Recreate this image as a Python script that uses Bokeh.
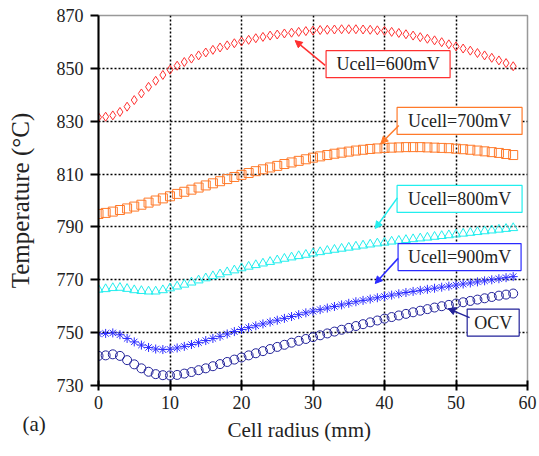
from bokeh.plotting import figure
from bokeh.models import ColumnDataSource, Arrow, NormalHead, Title, Range1d, FixedTicker
from bokeh.core.properties import value
from bokeh.embed import file_html
from bokeh.resources import INLINE

radius = list(range(0, 59))

t_600 = [831.5, 831.7, 832.2, 833.5, 835.5, 838.0, 840.5, 843.0, 845.3, 847.5,
         849.5, 851.0, 852.4, 853.7, 854.9, 856.0, 857.0, 857.9, 858.7, 859.5,
         860.2, 860.8, 861.4, 861.9, 862.4, 862.8, 863.2, 863.5, 863.8, 864.1,
         864.3, 864.5, 864.6, 864.7, 864.8, 864.8, 864.8, 864.7, 864.6, 864.4,
         864.2, 863.8, 863.4, 862.9, 862.4, 861.8, 861.2, 860.6, 859.9, 859.1,
         858.3, 857.5, 856.7, 855.8, 854.9, 854.0, 853.0, 852.0, 850.8]

t_700 = [794.9, 795.3, 795.8, 796.4, 797.0, 797.7, 798.4, 799.2, 800.0, 800.8,
         801.6, 802.5, 803.3, 804.1, 804.9, 805.7, 806.5, 807.3, 808.1, 808.9,
         809.7, 810.4, 811.1, 811.8, 812.5, 813.1, 813.8, 814.4, 815.0, 815.6,
         816.2, 816.7, 817.2, 817.7, 818.1, 818.5, 818.9, 819.2, 819.5, 819.7,
         819.9, 820.0, 820.1, 820.2, 820.2, 820.2, 820.1, 820.0, 819.9, 819.8,
         819.6, 819.4, 819.2, 818.9, 818.6, 818.3, 818.0, 817.6, 817.2]

t_800 = [766.3, 766.5, 766.9, 767.0, 766.6, 766.1, 765.8, 765.6, 765.6, 766.1,
         766.8, 767.5, 768.2, 769.0, 769.8, 770.6, 771.4, 772.1, 772.9, 773.6,
         774.4, 775.0, 775.6, 776.2, 776.8, 777.4, 778.0, 778.5, 779.0, 779.5,
         780.0, 780.5, 781.0, 781.4, 781.8, 782.2, 782.6, 783.0, 783.4, 783.8,
         784.1, 784.5, 784.8, 785.1, 785.4, 785.7, 786.0, 786.3, 786.6, 786.9,
         787.2, 787.5, 787.8, 788.1, 788.4, 788.7, 789.0, 789.3, 789.6]

t_900 = [749.5, 749.7, 749.9, 749.2, 747.8, 746.5, 745.3, 744.4, 743.8, 743.6,
         743.7, 744.2, 744.8, 745.5, 746.2, 747.0, 747.8, 748.6, 749.5, 750.4,
         751.2, 751.9, 752.6, 753.3, 754.0, 754.7, 755.4, 756.1, 756.8, 757.5,
         758.1, 758.7, 759.3, 759.9, 760.5, 761.1, 761.7, 762.2, 762.7, 763.2,
         763.7, 764.2, 764.7, 765.2, 765.6, 766.0, 766.4, 766.8, 767.2, 767.6,
         768.0, 768.4, 768.8, 769.2, 769.6, 770.0, 770.4, 770.8, 771.2]

t_ocv = [741.2, 741.4, 741.8, 741.2, 739.6, 738.0, 736.5, 735.2, 734.3, 733.9,
         733.8, 734.0, 734.5, 735.1, 735.8, 736.5, 737.3, 738.1, 738.9, 739.8,
         740.6, 741.4, 742.2, 743.0, 743.8, 744.6, 745.4, 746.2, 746.9, 747.6,
         748.3, 749.0, 749.7, 750.4, 751.1, 751.8, 752.5, 753.2, 753.9, 754.6,
         755.3, 755.9, 756.5, 757.1, 757.7, 758.3, 758.9, 759.5, 760.0, 760.5,
         761.0, 761.5, 762.0, 762.5, 763.0, 763.5, 764.0, 764.4, 764.8]

x_ticks = [0, 10, 20, 30, 40, 50, 60]
y_ticks = [730, 750, 770, 790, 810, 830, 850, 870]

labels = ["Ucell=600mV", "Ucell=700mV", "Ucell=800mV", "Ucell=900mV", "OCV"]
colors = ["#ff3030", "#ff7a2a", "#22eeee", "#2a2aff", "#22229a"]
markers = ["diamond", "square", "triangle", "asterisk", "circle"]
series = [t_600, t_700, t_800, t_900, t_ocv]

# annotation boxes (center x, center y in data units, width px)
box_x = [40.5, 50.5, 50.5, 50.5, 55.2]
box_y = [851.6, 830.1, 800.6, 778.6, 753.8]
box_w = [124, 125, 125, 123, 52]
arrow_start = [(31.7, 851.1), (42.0, 828.4), (41.8, 801.0), (41.9, 778.1), (51.9, 755.7)]
arrow_end = [(27.5, 860.5), (39.5, 821.6), (38.7, 789.4), (38.7, 768.6), (48.9, 759.1)]

SERIF = "Liberation Serif"

p = figure(frame_width=429, frame_height=370, output_backend="svg", toolbar_location=None,
           x_range=Range1d(0, 60), y_range=Range1d(730, 870),
           min_border_left=98, min_border_right=12, min_border_top=15, min_border_bottom=62)
p.background_fill_color = "white"
p.border_fill_color = "white"
p.outline_line_color = "#999999"
p.outline_line_width = 1.5

for vals, col, mk in zip(series, colors, markers):
    src = ColumnDataSource(dict(x=radius, y=vals))
    p.scatter("x", "y", source=src, marker=mk, size=9, fill_color=None,
              line_color=col, line_width=1)

for ax in (p.xaxis[0], p.yaxis[0]):
    ax.axis_line_color = "black"
    ax.axis_line_width = 2
    ax.major_tick_line_color = "black"
    ax.major_tick_line_width = 2
    ax.minor_tick_line_color = None
    ax.major_label_text_font = SERIF
    ax.major_label_text_font_size = "18px"
    ax.major_label_text_color = "#222222"
    ax.axis_label_text_font = SERIF
    ax.axis_label_text_font_style = "normal"
    ax.axis_label_text_color = "#222222"

p.yaxis.axis_label_text_font_size = "25px"
p.xaxis.ticker = FixedTicker(ticks=x_ticks)
p.yaxis.ticker = FixedTicker(ticks=y_ticks)
p.xaxis.major_tick_in = 5
p.xaxis.major_tick_out = 5
p.yaxis.major_tick_in = 0
p.yaxis.major_tick_out = 8
p.xaxis.major_label_standoff = 5
p.yaxis.major_label_standoff = 7
p.yaxis.axis_label = "Temperature (°C)"
p.yaxis.axis_label_standoff = 20

# panel tag and x-axis title as titles below the axis, on one line
p.add_layout(Title(text="\n(a)", align="left", offset=-76, standoff=-44, vertical_align="top",
                   text_line_height=0.95,
                   text_font=SERIF, text_font_size="21px", text_font_style="normal",
                   text_color="#222222"), "below")
p.add_layout(Title(text="Cell radius (mm)", align="left", offset=129, standoff=2,
                   vertical_align="top",
                   text_font=SERIF, text_font_size="21px", text_font_style="normal",
                   text_color="#222222"), "below")

p.xgrid.ticker = FixedTicker(ticks=x_ticks[1:-1])
p.ygrid.ticker = FixedTicker(ticks=y_ticks[1:-1])
for g in (p.xgrid[0], p.ygrid[0]):
    g.grid_line_color = "black"
    g.grid_line_dash = "2 2"
    g.grid_line_width = 1.5

for (sx, sy), (ex, ey), col in zip(arrow_start, arrow_end, colors):
    p.add_layout(Arrow(x_start=sx, y_start=sy, x_end=ex, y_end=ey,
                       line_color=col, line_width=1.5,
                       end=NormalHead(size=7, fill_color=col, line_color=col)))

p.rect(x=box_x, y=box_y, width=box_w, height=27, width_units="screen",
       height_units="screen", fill_color="white", line_color=colors, line_width=1.2)
p.text(x=box_x, y=box_y, text=labels, text_align="center", text_baseline="middle",
       text_font=value(SERIF), text_font_size="18px", text_color="#222222")

open("out.html", "w").write(file_html(p, INLINE))
